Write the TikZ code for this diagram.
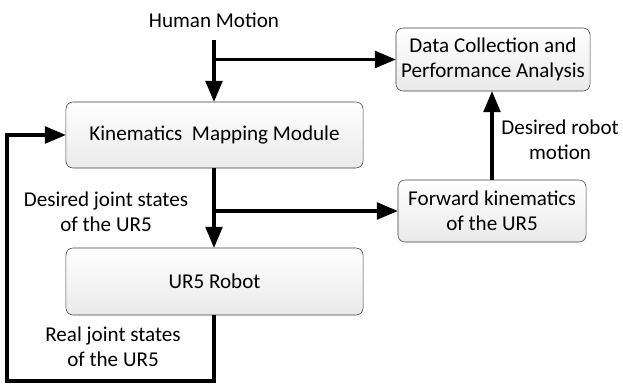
\documentclass[tikz,border=0pt]{standalone}
\usepackage{fontspec}
\setmainfont{Carlito}
\usetikzlibrary{shapes,arrows,positioning,calc}

\begin{document}
\begin{tikzpicture}[x=0.025cm,y=-0.025cm,
    font=\fontsize{15}{17.8}\selectfont,
    block/.style={draw=gray!50!black, rounded corners=5pt, top color=white, bottom color=gray!17, align=center, inner sep=0pt},
    lbl/.style={align=center},
    flow/.style={line width=2.5pt, -triangle 45}]
    \useasboundingbox (0,0) rectangle (623,385);
    \node (hm) at (214,20) {Human Motion};
    \node [block, minimum width=4.85cm, minimum height=1.575cm] (dca) at (493,59.5) {Data Collection and\\Performance Analysis};
    \node [block, minimum width=7.425cm, minimum height=1.65cm] (kmm) at (214.5,135) {Kinematics\ \ Mapping Module};
    \node [block, minimum width=4.7cm, minimum height=1.55cm] (fk) at (492,211) {Forward kinematics\\of the UR5};
    \node [block, minimum width=7.425cm, minimum height=1.675cm] (ur5) at (214.5,281.5) {UR5 Robot};
    \node [lbl] (djs) at (106,212) {Desired joint states\\of the UR5};
    \node [lbl] (rjs) at (113,347) {Real joint states\\of the UR5};
    \node [lbl] (drm) at (560,140) {Desired robot\\motion};
    \coordinate (top) at (214,40);
    \coordinate (low) at (214,381);
    \coordinate (left) at (7,381);
    \draw [flow] (top) -- (top |- kmm.north);
    \draw [flow] (top |- dca.west) -- (dca.west);
    \draw [flow] (kmm.south -| top) -- (top |- ur5.north);
    \draw [flow] (top |- fk.west) -- (fk.west);
    \draw [flow] (fk.north) -- (fk.north |- dca.south);
    \draw [flow] (ur5.south -| top) -- (low) -- (left) -- (left |- kmm.west) -- (kmm.west);
\end{tikzpicture}
\end{document}
